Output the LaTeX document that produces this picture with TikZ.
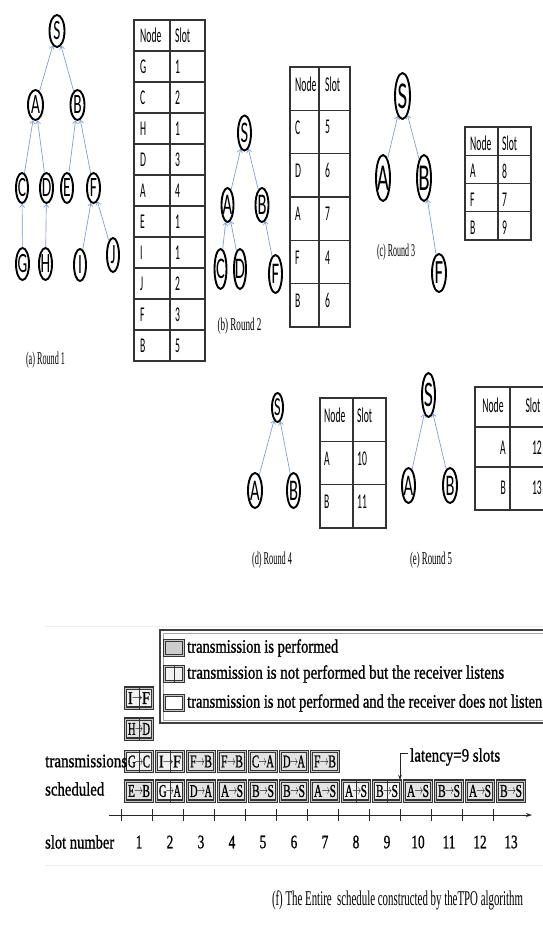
\documentclass[tikz,border=0pt]{standalone}
\usepackage{fontspec}
\setmainfont{Liberation Serif}
\newfontfamily\carl{Carlito}
\newfontfamily\hvy{Liberation Serif}[FakeBold=1.2]
\usepackage{graphicx}
\usetikzlibrary{shapes.geometric,arrows.meta}
\definecolor{edgeblue}{RGB}{125,155,205}
\newcommand{\fitw}[2]{\resizebox{#1}{\height}{#2}}
\newcommand{\tlet}[2]{{\carl\fontsize{#1}{#1}\selectfont\scalebox{0.55}[1]{#2}}}
\newcommand{\ttx}[1]{{\carl\fontsize{21}{21}\selectfont\scalebox{0.46}[1]{#1}}}
\newcommand{\capt}[2]{{\fontsize{18}{18}\selectfont\fitw{#1}{#2}}}
\newcommand{\ltx}[2]{{\hvy\fontsize{19}{19}\selectfont\fitw{#1}{#2}}}
\newcommand{\arr}{\kern-0.05em\raisebox{.12em}{\scalebox{0.8}{$\rightarrow$}}\kern-0.05em}
\newcommand{\bl}[1]{{\hvy\fontsize{18}{18}\selectfont\fitw{22pt}{#1}}}
\newcommand{\snum}[1]{{\hvy\fontsize{19}{19}\selectfont\scalebox{0.7}[1]{#1}}}
\begin{document}
\begin{tikzpicture}[x=1pt,y=-1pt,
  tn/.style 2 args={ellipse,draw=black,line width=1.9pt,inner sep=0pt,minimum width=#1,minimum height=#2},
  tedge/.style={draw=edgeblue,line width=0.65pt,-{Straight Barb[length=3pt,width=5pt]}},
  tabl/.style={draw=black!80,line width=1.1pt},
  celltxt/.style={anchor=west,inner sep=0pt},
  captxt/.style={inner sep=0pt},
  sbox/.style={draw=black!80,line width=1.3pt,minimum width=27pt,minimum height=20pt,inner sep=0pt,
    double=gray!45,double distance=0.7pt},
  perf/.style={sbox,fill=gray!22},
  lis/.style={sbox,fill=gray!10},
  splitl/.style={draw=black!80,line width=0.9pt},
]
\useasboundingbox (0,0) rectangle (543,927);
\fill[white] (0,0) rectangle (543,927);

% ---------- (a) Round 1 ----------
\node[tn={15pt}{32pt},label=center:{\tlet{28}{S}}] (aS) at (57,31) {};
\node[tn={15pt}{30pt},label=center:{\tlet{28}{A}}] (aA) at (35.5,105) {};
\node[tn={14pt}{30pt},label=center:{\tlet{28}{B}}] (aB) at (77.5,105) {};
\node[tn={12pt}{30pt},label=center:{\tlet{28}{C}}] (aC) at (22,188) {};
\node[tn={13pt}{30pt},label=center:{\tlet{28}{D}}] (aD) at (46.5,188) {};
\node[tn={12pt}{30pt},label=center:{\tlet{28}{E}}] (aE) at (67,188) {};
\node[tn={13pt}{30pt},label=center:{\tlet{28}{F}}] (aF) at (93.5,188) {};
\node[tn={13pt}{32pt},label=center:{\tlet{28}{G}}] (aG) at (22.5,264) {};
\node[tn={13pt}{32pt},label=center:{\tlet{28}{H}}] (aH) at (45.5,264) {};
\node[tn={12pt}{32pt},label=center:{\tlet{28}{I}}] (aI) at (80,265) {};
\node[tn={12pt}{34pt},label=center:{\tlet{28}{J}}] (aJ) at (113,255) {};
\foreach \c/\p in {aA/aS,aB/aS,aC/aA,aD/aA,aE/aB,aF/aB,aG/aC,aH/aD,aI/aF,aJ/aF}
  \draw[tedge] (\c) -- (\p);
\node[captxt] (capa) at (45.5,360) {\capt{39pt}{(a) Round 1}};

% table a
\draw[tabl] (134,20) rectangle (205,361);
\draw[tabl] (170,20) -- (170,361);
\foreach \k in {1,...,10} \draw[tabl] (134,{20+31*\k}) -- (205,{20+31*\k});
\node[celltxt] (ta0n) at (140,35.5) {\ttx{Node}};
\node[celltxt] (ta0s) at (175,35.5) {\ttx{Slot}};
\foreach \n/\s [count=\i] in {G/1,C/2,H/1,D/3,A/4,E/1,I/1,J/2,F/3,B/5} {
  \node[celltxt] (ta\i n) at (140,{20+31*\i+15.5}) {\ttx{\n}};
  \node[celltxt] (ta\i s) at (175,{20+31*\i+15.5}) {\ttx{\s}};
}

% ---------- (b) Round 2 ----------
\node[tn={13pt}{35pt},label=center:{\tlet{30}{S}}] (bS) at (244.5,133) {};
\node[tn={12pt}{34pt},label=center:{\tlet{30}{A}}] (bA) at (227.5,205) {};
\node[tn={13pt}{34pt},label=center:{\tlet{30}{B}}] (bB) at (262,205) {};
\node[tn={12pt}{40pt},label=center:{\tlet{30}{C}}] (bC) at (220.5,269) {};
\node[tn={12pt}{40pt},label=center:{\tlet{30}{D}}] (bD) at (240,269) {};
\node[tn={13pt}{38pt},label=center:{\tlet{30}{F}}] (bF) at (275.5,274) {};
\foreach \c/\p in {bA/bS,bB/bS,bC/bA,bD/bA,bF/bB}
  \draw[tedge] (\c) -- (\p);
\node[captxt] (capb) at (239.5,326.5) {\capt{44pt}{(b) Round 2}};

% table b
\draw[tabl] (290,67) rectangle (350,327);
\draw[tabl] (319,67) -- (319,327);
\foreach \k in {1,...,5} \draw[tabl] (290,{67+43.33*\k}) -- (350,{67+43.33*\k});
\node[celltxt] (tb0n) at (295,84) {\ttx{Node}};
\node[celltxt] (tb0s) at (325,84) {\ttx{Slot}};
\foreach \n/\s [count=\i] in {C/5,D/6,A/7,F/4,B/6} {
  \node[celltxt] (tb\i n) at (295,{67+43.33*\i+17}) {\ttx{\n}};
  \node[celltxt] (tb\i s) at (325,{67+43.33*\i+17}) {\ttx{\s}};
}

% ---------- (c) Round 3 ----------
\node[tn={15pt}{46pt},label=center:{\tlet{38}{S}}] (cS) at (402.5,96) {};
\node[tn={14pt}{46pt},label=center:{\tlet{38}{A}}] (cA) at (383,178) {};
\node[tn={14pt}{46pt},label=center:{\tlet{38}{B}}] (cB) at (424,178) {};
\node[tn={14pt}{38pt},label=center:{\tlet{34}{F}}] (cF) at (439,273) {};
\foreach \c/\p in {cA/cS,cB/cS,cF/cB}
  \draw[tedge] (\c) -- (\p);
\node[captxt] (capc) at (396,252) {\capt{38pt}{(c) Round 3}};

% table c
\draw[tabl] (465,127) rectangle (531,240);
\draw[tabl] (498,127) -- (498,240);
\foreach \k in {1,...,3} \draw[tabl] (465,{127+28.25*\k}) -- (531,{127+28.25*\k});
\node[celltxt] (tc0n) at (470,143) {\ttx{Node}};
\node[celltxt] (tc0s) at (502,143) {\ttx{Slot}};
\foreach \n/\s [count=\i] in {A/8,F/7,B/9} {
  \node[celltxt] (tc\i n) at (470,{127+28.25*\i+16}) {\ttx{\n}};
  \node[celltxt] (tc\i s) at (502,{127+28.25*\i+16}) {\ttx{\s}};
}

% ---------- (d) Round 4 ----------
\node[tn={11pt}{29pt},label=center:{\tlet{26}{S}}] (dS) at (277.5,407.5) {};
\node[tn={14pt}{35pt},label=center:{\tlet{30}{A}}] (dA) at (255,490.5) {};
\node[tn={13pt}{35pt},label=center:{\tlet{30}{B}}] (dB) at (293.5,490.5) {};
\foreach \c/\p in {dA/dS,dB/dS}
  \draw[tedge] (\c) -- (\p);
\node[captxt] (capd) at (272,560) {\capt{40pt}{(d) Round 4}};

% table d
\draw[tabl] (320,398) rectangle (386,528);
\draw[tabl] (353,398) -- (353,528);
\foreach \k in {1,2} \draw[tabl] (320,{398+43.33*\k}) -- (386,{398+43.33*\k});
\node[celltxt] (td0n) at (324,415) {\ttx{Node}};
\node[celltxt] (td0s) at (357,415) {\ttx{Slot}};
\foreach \n/\s [count=\i] in {A/10,B/11} {
  \node[celltxt] (td\i n) at (324,{398+43.33*\i+17}) {\ttx{\n}};
  \node[celltxt] (td\i s) at (357,{398+43.33*\i+17}) {\ttx{\s}};
}

% ---------- (e) Round 5 ----------
\node[tn={13pt}{44pt},label=center:{\tlet{36}{S}}] (eS) at (428.5,395) {};
\node[tn={13pt}{35pt},label=center:{\tlet{30}{A}}] (eA) at (408.5,485.5) {};
\node[tn={14pt}{35pt},label=center:{\tlet{30}{B}}] (eB) at (450,485.5) {};
\foreach \c/\p in {eA/eS,eB/eS}
  \draw[tedge] (\c) -- (\p);
\node[captxt] (cape) at (431,560) {\capt{42pt}{(e) Round 5}};

% table e
\draw[tabl] (560,387) -- (475,387) -- (475,510) -- (560,510);
\draw[tabl] (510,387) -- (510,510);
\draw[tabl] (475,427) -- (560,427);
\draw[tabl] (475,467) -- (560,467);
\node[inner sep=0pt] (te0n) at (493,405) {\ttx{Node}};
\node[inner sep=0pt] (te0s) at (533,405) {\ttx{Slot}};
\node[anchor=east,inner sep=0pt] (te1n) at (506,448) {\ttx{A}};
\node[anchor=east,inner sep=0pt] (te1s) at (542,448) {\ttx{12}};
\node[anchor=east,inner sep=0pt] (te2n) at (506,488) {\ttx{B}};
\node[anchor=east,inner sep=0pt] (te2s) at (542,488) {\ttx{13}};

% ---------- (f) schedule ----------
\draw[black!7,line width=0.6pt] (45,626) -- (545,626);
\draw[black!7,line width=0.6pt] (45,865) -- (545,865);

% legend
\coordinate (lg0) at (160,630);
\coordinate (lg1) at (550,723);
\draw[black!75,line width=1.5pt] (lg0) rectangle (lg1);
\draw[black!35,line width=0.6pt] (162.8,632.8) rectangle (550,720.2);
\node[perf,fill=gray!40,minimum width=19pt,minimum height=15pt] (lsym1) at (174,648) {};
\node[lis,minimum width=19pt,minimum height=15pt] (lsym2) at (174,674) {};
\draw[splitl] (lsym2.north) -- (lsym2.south);
\node[sbox,fill=white,minimum width=19pt,minimum height=15pt] (lsym3) at (174,703) {};
\node[celltxt] (lt1) at (187,648) {\ltx{151pt}{transmission is performed}};
\node[celltxt] (lt2) at (187,674) {\ltx{317pt}{transmission is not performed but the receiver listens}};
\node[celltxt] (lt3) at (187,703) {\ltx{355pt}{transmission is not performed and the receiver does not listen}};

% stacked boxes slot 1
\node[lis] (sIF) at (139,698) {\bl{I\arr F}};
\draw[splitl] (sIF.north) -- (sIF.south);
\node[perf] (sHD) at (139,729) {\bl{H\arr D}};
\draw[splitl] (sHD.north) -- (sHD.south);

% transmissions row
\foreach \a/\b/\st [count=\i] in {G/C/lis,I/F/lis,F/B/perf,F/B/perf,C/A/perf,D/A/perf,F/B/perf} {
  \node[\st] (tr\i) at ({139+31*(\i-1)},761.5) {\bl{\a\arr\b}};
}
\foreach \i in {1,2} \draw[splitl] (tr\i.north) -- (tr\i.south);

% scheduled row
\foreach \a/\b/\st [count=\i] in {E/B/perf,G/A/lis,D/A/perf,A/S/perf,B/S/perf,B/S/perf,A/S/perf,A/S/lis,B/S/lis,A/S/perf,B/S/perf,A/S/perf,B/S/perf} {
  \node[\st] (sc\i) at ({139+31*(\i-1)},791) {\bl{\a\arr\b}};
}
\foreach \i in {2,8,9} \draw[splitl] (sc\i.north) -- (sc\i.south);

% row labels
\node[celltxt] (ltr) at (45,761) {\ltx{82pt}{transmissions}};
\node[celltxt] (lsc) at (45,789) {\ltx{59pt}{scheduled}};
\node[celltxt] (lsn) at (45,842) {\ltx{69pt}{slot number}};

% axis
\coordinate (ax0) at (109,815);
\coordinate (ax1) at (532,815);
\draw[black!85,line width=0.9pt,-{Stealth[length=6pt,width=4pt]}] (ax0) -- (ax1);
\foreach \k in {0,...,12} \draw[black!85,line width=0.8pt] ({121+31*\k},809) -- ({121+31*\k},821);
\foreach \i in {1,...,13} \node[inner sep=0pt] (n\i) at ({139+31*(\i-1)},842) {\snum{\i}};

% latency
\node[celltxt] (lat) at (410,757) {\ltx{90pt}{latency=9 slots}};
\coordinate (lat0) at (408,753);
\coordinate (lat1) at (400,753);
\coordinate (lat2) at (400,780);
\draw[black!85,line width=0.8pt,-{Stealth[length=5pt,width=3.5pt]}] (lat0) -- (lat1) -- (lat2);

% caption f
\node[captxt] (capf) at (397.5,900) {{\fontsize{21}{21}\selectfont\fitw{251pt}{(f) The Entire\ \ schedule constructed by theTPO algorithm}}};
\end{tikzpicture}
\end{document}
